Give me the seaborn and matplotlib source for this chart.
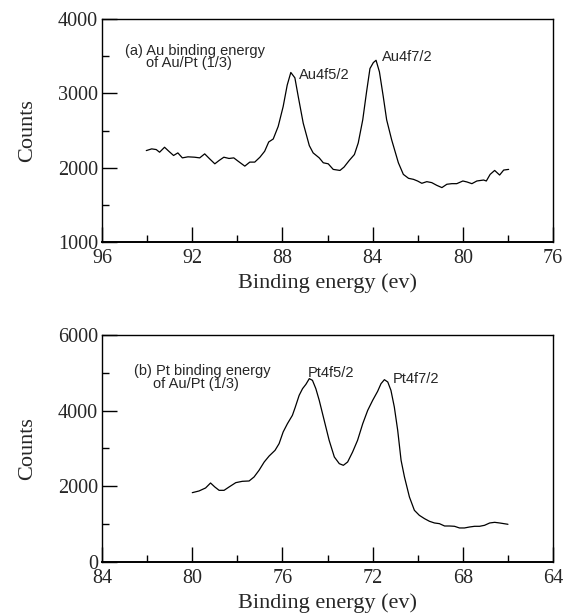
import matplotlib
matplotlib.use("Agg")
import matplotlib.pyplot as plt
from matplotlib.ticker import MultipleLocator
import matplotlib.transforms as mtransforms
import seaborn as sns
import pandas as pd

# ---- Data ----
au_energy = [94.04, 93.8, 93.6, 93.45, 93.23, 93.04, 92.83, 92.64, 92.44, 92.19, 91.9, 91.67,
             91.45, 91.23, 91.0, 90.81, 90.6, 90.37, 90.16, 89.97, 89.67, 89.45, 89.23, 89.0,
             88.79, 88.61, 88.41, 88.19, 87.97, 87.79, 87.63, 87.45, 87.3, 87.08, 86.81, 86.64,
             86.37, 86.19, 85.97, 85.75, 85.45, 85.27, 85.04, 84.81, 84.64, 84.44, 84.27, 84.12,
             83.97, 83.85, 83.7, 83.53, 83.38, 83.16, 82.86, 82.64, 82.41, 82.19, 82.01, 81.82,
             81.6, 81.38, 81.16, 80.93, 80.71, 80.49, 80.27, 80.0, 79.82, 79.6, 79.38, 79.08,
             78.96, 78.79, 78.59, 78.37, 78.19, 77.97]
au_counts = [2231, 2254, 2245, 2209, 2276, 2222, 2165, 2200, 2133, 2147, 2142, 2133,
             2187, 2120, 2053, 2098, 2142, 2125, 2133, 2089, 2022, 2076, 2076, 2142,
             2222, 2347, 2387, 2556, 2823, 3112, 3282, 3210, 2957, 2600, 2298, 2200,
             2133, 2067, 2053, 1978, 1964, 2009, 2098, 2178, 2334, 2645, 3023, 3335,
             3415, 3446, 3290, 2957, 2645, 2378, 2067, 1911, 1858, 1844, 1822, 1791,
             1813, 1800, 1764, 1733, 1778, 1786, 1786, 1822, 1809, 1786, 1822, 1835,
             1822, 1911, 1964, 1902, 1969, 1978]

pt_energy = [80.0, 79.7, 79.41, 79.19, 79.0, 78.81, 78.59, 78.37, 78.07, 77.78, 77.48, 77.26,
             77.04, 76.81, 76.59, 76.33, 76.15, 75.97, 75.78, 75.56, 75.44, 75.26, 75.11, 74.96,
             74.81, 74.67, 74.52, 74.37, 74.15, 73.93, 73.7, 73.48, 73.3, 73.11, 72.89, 72.67,
             72.44, 72.22, 72.0, 71.78, 71.63, 71.48, 71.33, 71.19, 71.04, 70.89, 70.74, 70.59,
             70.37, 70.15, 69.93, 69.7, 69.48, 69.26, 69.04, 68.81, 68.59, 68.37, 68.15, 67.93,
             67.7, 67.48, 67.26, 67.04, 66.81, 66.59, 66.37, 66.0]
pt_counts = [1832, 1877, 1956, 2088, 1982, 1894, 1894, 1982, 2097, 2132, 2141, 2247,
             2423, 2643, 2802, 2951, 3128, 3436, 3656, 3876, 4079, 4405, 4581, 4696,
             4846, 4801, 4581, 4273, 3744, 3216, 2775, 2599, 2555, 2643, 2907, 3216,
             3656, 4008, 4273, 4511, 4713, 4819, 4757, 4537, 4097, 3480, 2687, 2247,
             1718, 1366, 1233, 1145, 1075, 1031, 1013, 951, 951, 943, 899, 899,
             925, 943, 943, 969, 1031, 1048, 1031, 996]

au_title = ["(a) Au binding energy", "of Au/Pt (1/3)"]
pt_title = ["(b) Pt binding energy", "of Au/Pt (1/3)"]
au_peaks = ["Au4f5/2", "Au4f7/2"]
pt_peaks = ["Pt4f5/2", "Pt4f7/2"]

sns.set_style("ticks")
plt.rcParams["font.family"] = ["Liberation Serif", "DejaVu Serif"]

fig = plt.figure(figsize=(5.64, 6.16), dpi=100)
ax1 = fig.add_axes([0.181, 0.607, 0.7996, 0.362])
ax2 = fig.add_axes([0.181, 0.0877, 0.7996, 0.3685])

df_au = pd.DataFrame({"energy": au_energy, "counts": au_counts})
df_pt = pd.DataFrame({"energy": pt_energy, "counts": pt_counts})

sns.lineplot(data=df_au, x="energy", y="counts", ax=ax1, color="black", lw=0.9, sort=False)
sns.lineplot(data=df_pt, x="energy", y="counts", ax=ax2, color="black", lw=0.9, sort=False)

sans = ["Liberation Sans", "DejaVu Sans"]

def style(ax, xlim, ylim, xmaj, xmin, ymaj, ymin):
    ax.set_xlim(*xlim)
    ax.set_ylim(*ylim)
    ax.xaxis.set_major_locator(MultipleLocator(xmaj))
    ax.xaxis.set_minor_locator(MultipleLocator(xmin))
    ax.yaxis.set_major_locator(MultipleLocator(ymaj))
    ax.yaxis.set_minor_locator(MultipleLocator(ymin))
    ax.tick_params(which="both", direction="in", top=False, right=False, width=1.0,
                   color="black")
    ax.tick_params(which="major", length=10.5, labelsize=14.5)
    ax.tick_params(axis="x", which="major", pad=5)
    ax.tick_params(axis="y", which="major", pad=3)
    ax.tick_params(which="minor", length=5)
    for s in ax.spines.values():
        s.set_visible(True)
        s.set_linewidth(1.0)
        s.set_color("black")
    ax.spines["bottom"].set_linewidth(1.4)
    ax.set_xlabel("Binding energy (ev)", fontsize=16, labelpad=4)
    ax.set_ylabel("Counts", fontsize=16, labelpad=15)

style(ax1, (96, 76), (1000, 4000), 4, 2, 1000, 500)
style(ax2, (84, 64), (0, 6000), 4, 2, 2000, 1000)

# nudge the lowest y tick labels slightly up so they do not collide with x tick labels
fig.canvas.draw()
for ax in (ax1, ax2):
    lab = ax.yaxis.get_major_ticks()[0].label1
    lab.set_transform(lab.get_transform() +
                      mtransforms.ScaledTranslation(0, 2.5 / 72, fig.dpi_scale_trans))

fs = 10.5
ax1.text(94.98, 3573, au_title[0], family=sans, fontsize=fs, va="center", ha="left")
ax1.text(94.05, 3404, au_title[1], family=sans, fontsize=fs, va="center", ha="left")
ax1.text(87.25, 3250, au_peaks[0], family=sans, fontsize=fs, va="center", ha="left")
ax1.text(83.6, 3485, au_peaks[1], family=sans, fontsize=fs, va="center", ha="left")

ax2.text(82.58, 5048, pt_title[0], family=sans, fontsize=fs, va="center", ha="left")
ax2.text(81.74, 4705, pt_title[1], family=sans, fontsize=fs, va="center", ha="left")
ax2.text(74.86, 4995, pt_peaks[0], family=sans, fontsize=fs, va="center", ha="left")
ax2.text(71.1, 4837, pt_peaks[1], family=sans, fontsize=fs, va="center", ha="left")

fig.savefig("out.png", dpi=100, facecolor="white")
